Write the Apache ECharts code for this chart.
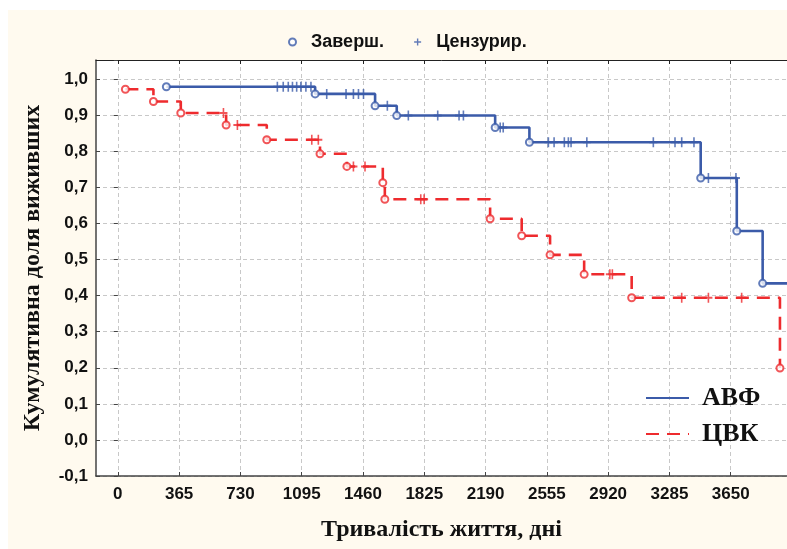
<!DOCTYPE html>
<html>
<head>
<meta charset="utf-8">
<script src="https://cdn.jsdelivr.net/npm/echarts@6/dist/echarts.min.js"></script>
<style>
html,body{margin:0;padding:0;background:#fff;}
#chart{width:787px;height:549px;}
</style>
</head>
<body>
<div id="chart"></div>
<script>
// ---- data ----
const xTickLabels = [0, 365, 730, 1095, 1460, 1825, 2190, 2555, 2920, 3285, 3650];
// АВФ: events (time, cumulative survival)
const avfEvents = [[289,0.979],[1175,0.959],[1532,0.926],[1661,0.899],[2247,0.866],[2451,0.825],[3471,0.726],[3686,0.579],[3840,0.434]];
const avfEnd = [4000, 0.434];
const avfCensored = [[950,0.979],[985,0.979],[1015,0.979],[1040,0.979],[1065,0.979],[1090,0.979],[1120,0.979],[1150,0.979],
  [1244,0.959],[1359,0.959],[1403,0.959],[1433,0.959],[1463,0.959],[1605,0.926],
  [1730,0.899],[1905,0.899],[2032,0.899],[2058,0.899],[2277,0.866],[2295,0.866],
  [2564,0.825],[2598,0.825],[2659,0.825],[2683,0.825],[2699,0.825],[2793,0.825],[3189,0.825],[3318,0.825],[3358,0.825],[3431,0.825],
  [3517,0.726],[3681,0.726]];
// ЦВК
const cvkEvents = [[45,0.972],[212,0.938],[375,0.906],[645,0.873],[887,0.832],[1204,0.793],[1364,0.758],[1578,0.713],[1590,0.667],
  [2217,0.613],[2405,0.566],[2574,0.513],[2777,0.459],[3060,0.394],[3943,0.199]];
const cvkCensored = [[629,0.906],[712,0.873],[1155,0.832],[1194,0.832],[1403,0.758],[1472,0.758],[1804,0.667],[1824,0.667],
  [2930,0.459],[2945,0.459],[3358,0.394],[3517,0.394],[3715,0.394]];

// ---- styles ----
const BLUE = '#3B5BA9', RED = '#EE2B2E';
const SANS = '"Liberation Sans", Arial, sans-serif';
const SERIF = '"Liberation Serif", "Times New Roman", serif';
const PLUS = 'path://M8,0h4v8h8v4h-8v8h-4v-8h-8v-4h8z';
const fmt = v => (Math.round(v * 10) / 10).toFixed(1).replace('.', ',');

const chart = echarts.init(document.getElementById('chart'));
chart.setOption({
  animation: false,
  backgroundColor: '#ffffff',
  graphic: [{
    type: 'rect', z: -10, silent: true,
    shape: { x: 8, y: 10, width: 779, height: 539 },
    style: { fill: '#FFFAEF' }
  }],
  grid: { left: 96, right: 0, top: 60, bottom: 73, show: true, backgroundColor: '#ffffff', borderWidth: 0 },
  legend: [{
    left: 283, top: 28, itemGap: 30, itemWidth: 7, itemHeight: 7,
    textStyle: { fontFamily: SANS, fontWeight: 'bold', fontSize: 18, color: '#111', padding: [0, 0, 0, 10] },
    data: [{ name: 'Заверш.', icon: 'emptyCircle' }, { name: 'Цензурир.', icon: PLUS }]
  }, {
    orient: 'vertical', left: 640, top: 380, itemGap: 10, itemWidth: 43, itemHeight: 4,
    itemStyle: { opacity: 0 },
    textStyle: { fontFamily: SERIF, fontWeight: 'bold', fontSize: 26, color: '#111', padding: [0, 0, 0, 8] },
    data: ['АВФ', 'ЦВК']
  }],
  xAxis: [{
    type: 'value', min: -130, max: 3985,
    name: 'Тривалість життя, дні', nameLocation: 'middle', nameGap: 42,
    nameTextStyle: { fontFamily: SERIF, fontWeight: 'bold', fontSize: 24, color: '#111' },
    axisLine: { show: true, onZero: false, lineStyle: { color: '#444', width: 1.5 } },
    axisTick: { show: true, inside: true, length: 4, customValues: xTickLabels, lineStyle: { color: '#444' } },
    axisLabel: { customValues: xTickLabels, formatter: v => String(v), margin: 10, fontFamily: SANS, fontWeight: 'bold', fontSize: 17, color: '#111' },
    splitLine: { show: true, lineStyle: { color: '#C8C8C8', type: [4, 3], width: 1 } }
  }, {
    type: 'value', position: 'top', min: -130, max: 3985,
    axisLine: { show: true, onZero: false, lineStyle: { color: '#222', width: 1 } },
    axisTick: { show: true, inside: true, length: 4, customValues: xTickLabels, lineStyle: { color: '#222' } },
    axisLabel: { show: false }, splitLine: { show: false }
  }],
  yAxis: [{
    type: 'value', min: -0.1, max: 1.053, interval: 0.1,
    name: 'Кумулятивна доля виживших', nameLocation: 'middle', nameGap: 51,
    nameTextStyle: { fontFamily: SERIF, fontWeight: 'bold', fontSize: 24, color: '#111' },
    axisLine: { show: true, onZero: false, lineStyle: { color: '#444', width: 1.5 } },
    axisTick: { show: true, inside: true, length: 4, lineStyle: { color: '#444' } },
    axisLabel: { formatter: fmt, showMaxLabel: false, margin: 8, fontFamily: SANS, fontWeight: 'bold', fontSize: 17, color: '#111' },
    splitLine: { show: true, lineStyle: { color: '#C8C8C8', type: [4, 3], width: 1 } }
  }, {
    type: 'value', position: 'right', min: -0.1, max: 1.053, interval: 0.1,
    axisLine: { show: false },
    axisTick: { show: true, inside: true, length: 4, lineStyle: { color: '#444' } },
    axisLabel: { show: false }, splitLine: { show: false }
  }],
  series: [
    { name: 'АВФ', type: 'line', step: 'end', showSymbol: false, symbol: 'none',
      data: avfEvents.concat([avfEnd]), lineStyle: { color: BLUE, width: 2.6 }, itemStyle: { color: BLUE }, z: 3 },
    { name: 'ЦВК', type: 'line', step: 'end', showSymbol: false, symbol: 'none',
      data: cvkEvents, lineStyle: { color: RED, width: 2.6, type: [13, 8] }, itemStyle: { color: RED }, z: 2 },
    { name: 'Заверш.', type: 'scatter', symbol: 'emptyCircle', symbolSize: 7, data: avfEvents,
      itemStyle: { color: BLUE, borderColor: BLUE, borderWidth: 1.3 }, z: 5 },
    { name: 'Цензурир.', type: 'scatter', symbol: PLUS, symbolSize: [8, 10], data: avfCensored,
      itemStyle: { color: BLUE }, z: 4 },
    { name: 'Заверш.', type: 'scatter', symbol: 'emptyCircle', symbolSize: 7, data: cvkEvents,
      itemStyle: { color: RED, borderColor: RED, borderWidth: 1.3 }, z: 5 },
    { name: 'Цензурир.', type: 'scatter', symbol: PLUS, symbolSize: [8, 10], data: cvkCensored,
      itemStyle: { color: RED }, z: 4 }
  ]
});
</script>
</body>
</html>
